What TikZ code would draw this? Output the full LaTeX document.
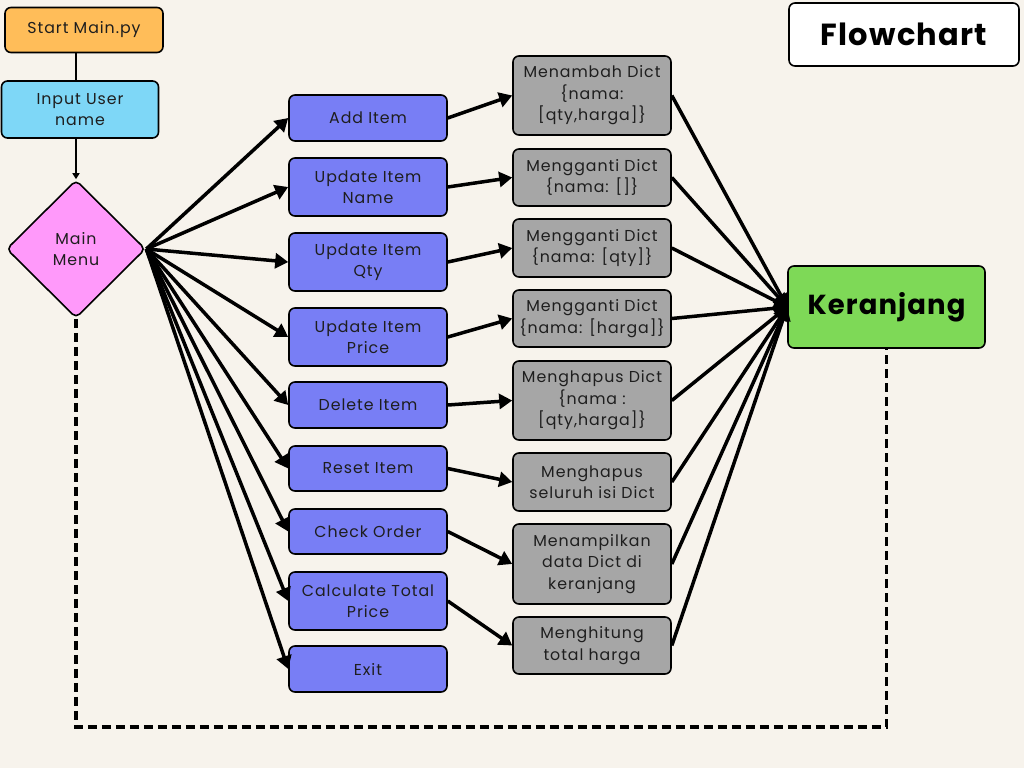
\documentclass[tikz,border=0pt]{standalone}
\usepackage{fontspec}
\setmainfont{Poppins}[LetterSpace=6]
\newfontfamily\titlefont{Poppins}[LetterSpace=4]
\usetikzlibrary{arrows.meta,shapes.geometric}
\definecolor{bgc}{HTML}{F7F3EC}
\definecolor{orangec}{HTML}{FFBD59}
\definecolor{skyc}{HTML}{7ED7F7}
\definecolor{pinkc}{HTML}{FF99FA}
\definecolor{bluec}{HTML}{787EF5}
\definecolor{grayc}{HTML}{A6A6A6}
\definecolor{greenc}{HTML}{7ED957}
\definecolor{txt}{HTML}{1E1E1E}
\tikzset{
  box/.style={draw=black, line width=1.6pt, rounded corners=6pt, align=center, inner sep=0pt,
    font=\fontsize{15.8}{21.5}\selectfont, text=txt},
  bluebox/.style={box, fill=bluec, minimum width=158pt},
  graybox/.style={box, fill=grayc, minimum width=158pt},
  conn/.style={line width=3.5pt, -{Triangle[length=13pt,width=15pt]}},
  thinconn/.style={line width=1.8pt, -{Triangle[length=6pt,width=7pt]}},
  dashline/.style={line width=3.5pt, dash pattern=on 9pt off 5pt},
}
\begin{document}
\begin{tikzpicture}[x=1pt,y=-1pt]
\fill[bgc] (0,0) rectangle (1024,768);
\useasboundingbox (0,0) rectangle (1024,768);

% left column
\node[box, fill=orangec, minimum width=158pt, minimum height=45pt] (start) at (84,30) {Start Main.py};
\node[box, fill=skyc, minimum width=157pt, minimum height=57pt] (input) at (80,109.5) {Input User\\name};
\node[box, fill=pinkc, shape=diamond, minimum width=139pt, minimum height=138pt, rounded corners=5pt] (menu) at (76,249) {Main\\Menu};

% blue column
\node[bluebox, minimum height=46pt] (add) at (368,118) {Add Item};
\node[bluebox, minimum height=58pt] (upn) at (368,187) {Update Item\\Name};
\node[bluebox, minimum height=58pt] (upq) at (368,262) {Update Item\\Qty};
\node[bluebox, minimum height=58pt] (upp) at (368,337) {Update Item\\Price};
\node[bluebox, minimum height=46pt] (del) at (368,405) {Delete Item};
\node[bluebox, minimum height=45pt] (reset) at (368,468.5) {Reset Item};
\node[bluebox, minimum height=45pt] (check) at (368,531.5) {Check Order};
\node[bluebox, minimum height=58pt] (calc) at (368,601) {Calculate Total\\Price};
\node[bluebox, minimum height=46pt] (exit) at (368,669) {Exit};

% gray column
\node[graybox, minimum height=79pt] (g1) at (592,95.5) {Menambah Dict\\\{nama:\\{}[qty,harga]\}};
\node[graybox, minimum height=57pt] (g2) at (592,177.5) {Mengganti Dict\\\{nama: []\}};
\node[graybox, minimum height=58pt] (g3) at (592,248) {Mengganti Dict\\\{nama: [qty]\}};
\node[graybox, minimum height=57pt] (g4) at (592,318.5) {Mengganti Dict\\\{nama: [harga]\}};
\node[graybox, minimum height=79pt] (g5) at (592,400.5) {Menghapus Dict\\\{nama :\\{}[qty,harga]\}};
\node[graybox, minimum height=58pt] (g6) at (592,482) {Menghapus\\seluruh isi Dict};
\node[graybox, minimum height=80pt] (g7) at (592,564) {Menampilkan\\data Dict di\\keranjang};
\node[graybox, minimum height=57pt] (g8) at (592,645.5) {Menghitung\\total harga};

% right
\node[box, fill=greenc, minimum width=197pt, minimum height=82pt, font=\titlefont\fontsize{27.5}{32}\bfseries\selectfont, text=black] (ker) at (886.5,307) {Keranjang};
\node[box, fill=white, minimum width=230pt, minimum height=63pt, font=\titlefont\fontsize{30.5}{34}\bfseries\selectfont, text=black] (flow) at (904,34.5) {Flowchart};

% connectors
\draw[line width=1.8pt] (start.south -| menu) -- (input.north -| menu);
\draw[thinconn] (input.south -| menu) -- (menu.north);
\foreach \b in {add,upn,upq,upp,del,reset,check,calc,exit}
  \draw[conn] (menu.east) -- (\b.west);
\foreach \b/\g in {add/g1,upn/g2,upq/g3,upp/g4,del/g5,reset/g6,check/g7,calc/g8}
  \draw[conn] (\b.east) -- (\g.west);
\foreach \g in {g1,g2,g3,g4,g5,g6,g7,g8}
  \draw[conn] (\g.east) -- (ker.west);
\coordinate (bot) at (0,727);
\draw[dashline] (menu.south) -- (menu.south |- bot) -| (ker.south);
\end{tikzpicture}
\end{document}
